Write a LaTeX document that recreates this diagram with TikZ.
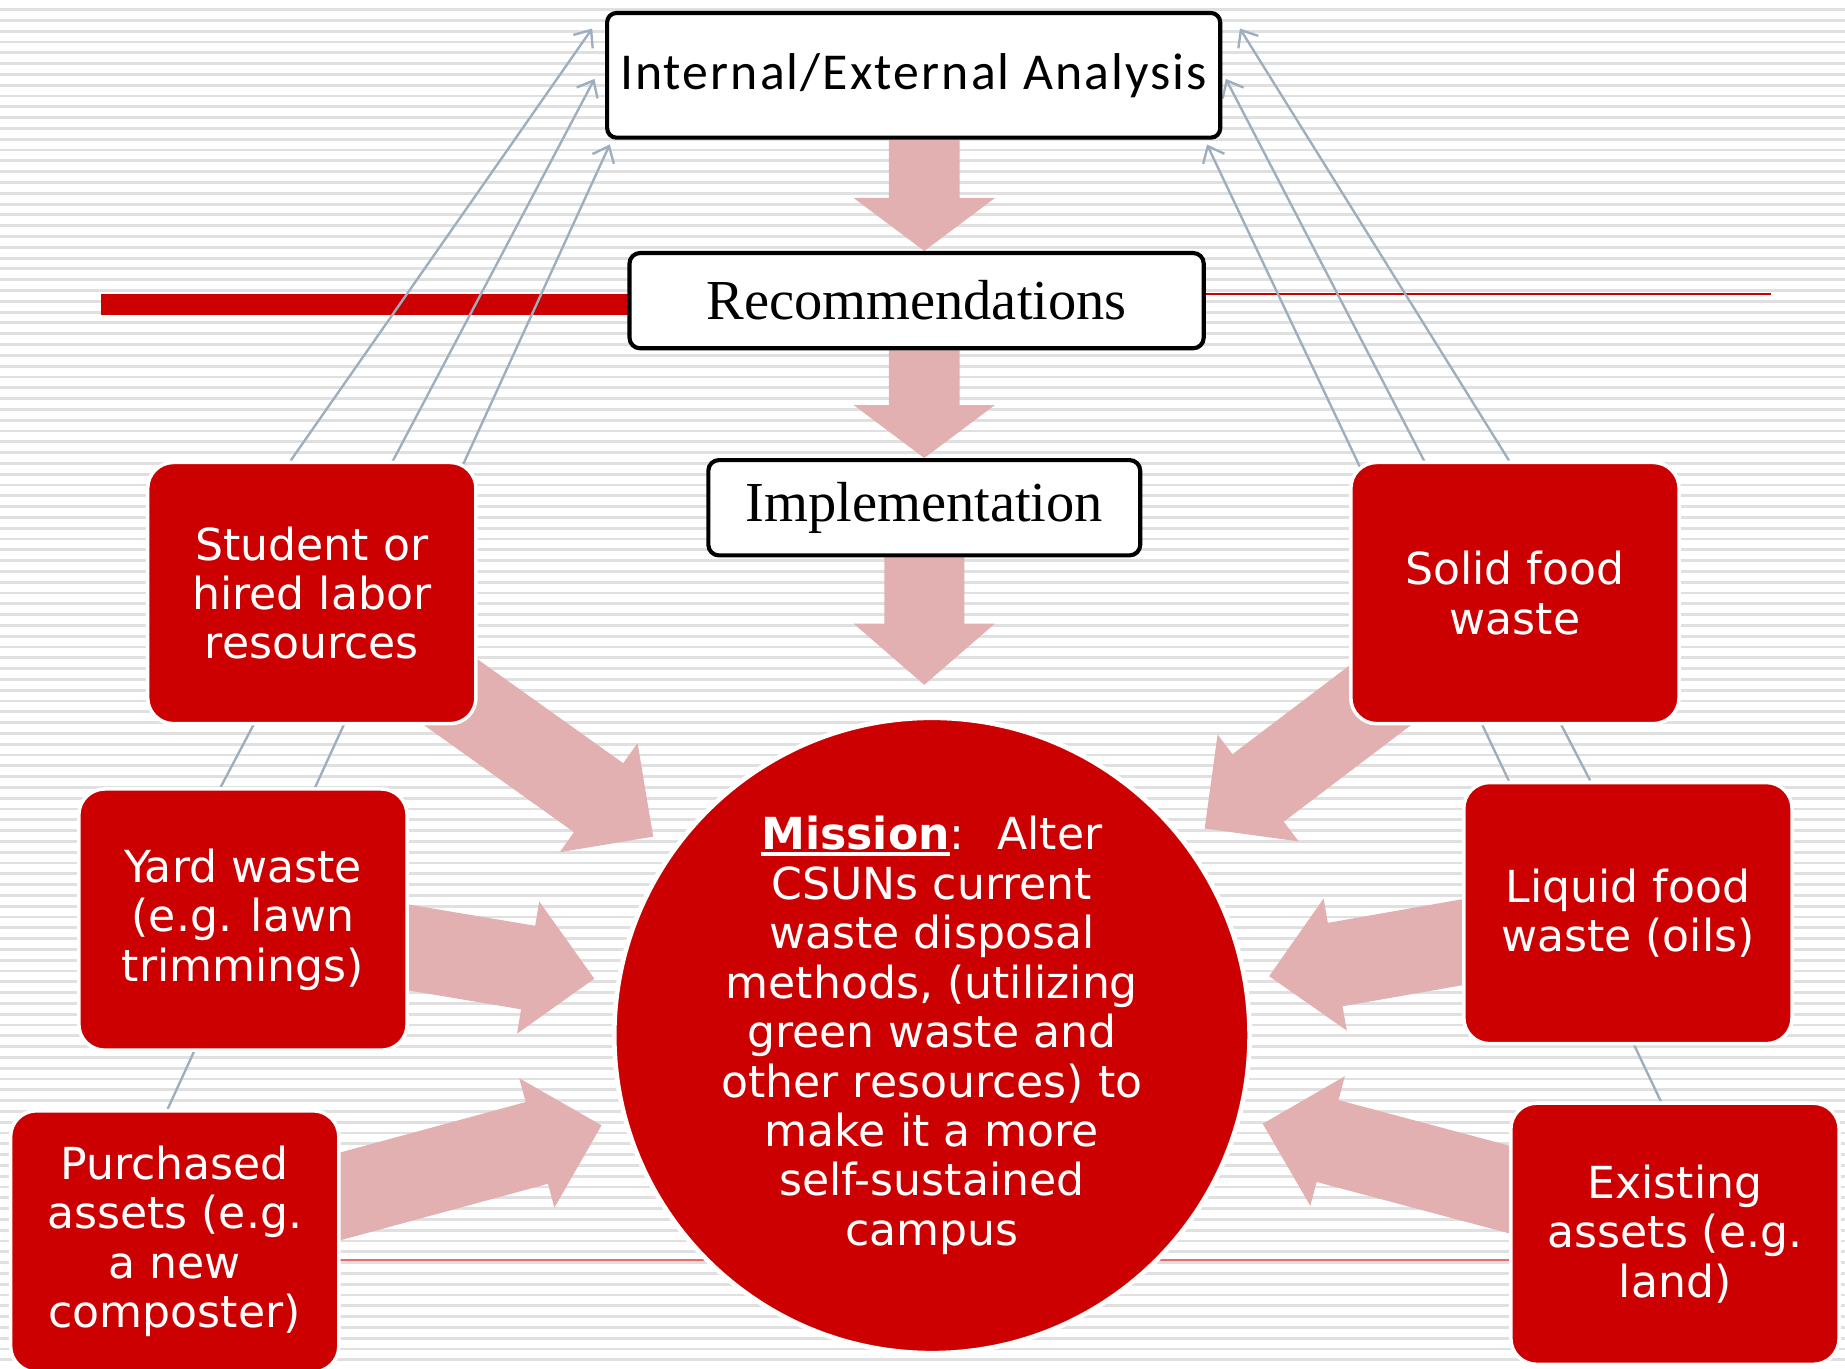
\documentclass[tikz,border=0pt]{standalone}
\usepackage{fontspec}
\usetikzlibrary{calc,arrows.meta}
\setmainfont{DejaVu Sans}
\newfontfamily\stagefont{Liberation Serif}
\newfontfamily\analysisfont{Carlito}[LetterSpace=4]
% bold word with a heavy underline
\newcommand{\ulbold}[1]{\setbox0=\hbox{\textbf{#1}}\mbox{\rlap{\rule[-5pt]{\wd0}{3pt}}\box0}}

\definecolor{csunred}{RGB}{204,0,0}
\definecolor{flowpink}{RGB}{226,176,176}
\definecolor{linkgray}{RGB}{157,175,190}
\definecolor{ruled}{RGB}{224,224,224}
\definecolor{thinred}{RGB}{226,112,112}

\pgfdeclarelayer{paper}
\pgfdeclarelayer{links}
\pgfsetlayers{paper,links,main}

% wide block arrow: tail, tip, half shaft, half head, head length
\newcommand{\fatarrow}[5]{%
  \coordinate (fa-h) at ($(#2)!#5!(#1)$);
  \fill[flowpink] ($(#1)!#3!90:(#2)$) -- ($(fa-h)!#3!-90:(#1)$)
    -- ($(fa-h)!#4!-90:(#1)$) -- (#2) -- ($(fa-h)!#4!90:(#1)$)
    -- ($(fa-h)!#3!90:(#1)$) -- ($(#1)!#3!-90:(#2)$) -- cycle;
}

\begin{document}
\begin{tikzpicture}[
    x=1pt, y=-1pt,
    source/.style={rectangle, rounded corners=22pt, fill=csunred, draw=white, line width=3pt, minimum width=279pt, minimum height=222pt, inner sep=0pt, align=center, text=white, font=\fontsize{37.5}{42}\selectfont},
    stagebox/.style={rectangle, rounded corners=9pt, fill=white, draw=black, line width=3.5pt, minimum height=81pt, inner sep=0pt, font=\stagefont\fontsize{48}{54}\selectfont},
    link/.style={linkgray, line width=2pt, -{Straight Barb[length=12pt,width=20pt]}}
]
\useasboundingbox (0,0) rectangle (1568,1163);

% Ruled paper and title bar
\begin{pgfonlayer}{paper}
\fill[white] (0,0) rectangle (1568,1163);
\foreach \k in {0,...,125}
  \fill[ruled] (0,{7+9.18*\k}) rectangle ++(1568,2.4);
\fill[csunred] (86,250) rectangle (700,268);
\draw[csunred, line width=1.6pt] (700,250) -- (1505,250);
\draw[thinred, line width=1.4pt] (86,1071) -- (1505,1071);
\end{pgfonlayer}

% Planning stages
\node[stagebox, minimum width=521pt, minimum height=106pt, rounded corners=8pt, font=\analysisfont\fontsize{44}{50}\selectfont] (iea) at (776.5,64) {Internal/External Analysis};
\node[stagebox, minimum width=488pt] (recs) at (779,255.5) {Recommendations};
\node[stagebox, minimum width=367pt] (impl) at (785.5,431.5) {Implementation};

% Mission
\node[circle, fill=csunred, draw=white, line width=4pt, minimum size=540pt, inner sep=0pt, align=center, text=white, font=\fontsize{37.5}{42}\selectfont] (mission) at (792,880)
  {\ulbold{Mission}:~ Alter\\CSUNs current\\waste disposal\\methods, (utilizing\\green waste and\\other resources) to\\make it a more\\self-sustained\\campus};

% Resources on the left
\node[source] (student) at (265,504) {Student or\\hired labor\\resources};
\node[source] (yard) at (206.5,781.5) {Yard waste\\(e.g. lawn\\trimmings)};
\node[source] (purchased) at (148.5,1055) {Purchased\\assets (e.g.\\a new\\composter)};

% Resources on the right
\node[source] (solid) at (1287.5,504) {Solid food\\waste};
\node[source] (liquid) at (1383.5,776) {Liquid food\\waste (oils)};
\node[source] (existing) at (1423.5,1048.5) {Existing\\assets (e.g.\\land)};

\begin{pgfonlayer}{links}
% Stage arrows
\coordinate (s1) at (impl.center |- iea.south);
\coordinate (s2) at (impl.center |- recs.north);
\coordinate (s3) at (impl.center |- recs.south);
\coordinate (s4) at (impl.center |- mission.north);
\coordinate (s5) at ($(s4)+(0,-26)$);
\fatarrow{s1}{s2}{30pt}{60pt}{45pt}
\fatarrow{s3}{impl.north}{30pt}{60pt}{45pt}
\fatarrow{impl.south}{s5}{34pt}{60pt}{52pt}

% Resource arrows into the mission
\foreach \src in {student,yard,purchased,solid,liquid,existing} {
  \coordinate (tip-\src) at ($(mission.center)!291pt!(\src.center)$);
  \fatarrow{\src.center}{tip-\src}{36pt}{57pt}{57pt}
}

% Feedback to the analysis
\draw[link] ([xshift=-18pt]student.north) -- ($(iea.north west)+(-11,15)$);
\draw[link] ([xshift=-19pt]yard.north) -- ($(iea.west)+(-9,3)$);
\draw[link] ([xshift=-6pt]purchased.north) -- ($(iea.south west)+(4,4)$);
\draw[link] ([xshift=-5pt]solid.north) -- ($(iea.north east)+(15,15)$);
\draw[link] ([xshift=-32pt]liquid.north) -- ($(iea.east)+(3,3)$);
\draw[link] ([xshift=-12pt]existing.north) -- ($(iea.south east)+(-13,4)$);
\end{pgfonlayer}

\end{tikzpicture}
\end{document}
